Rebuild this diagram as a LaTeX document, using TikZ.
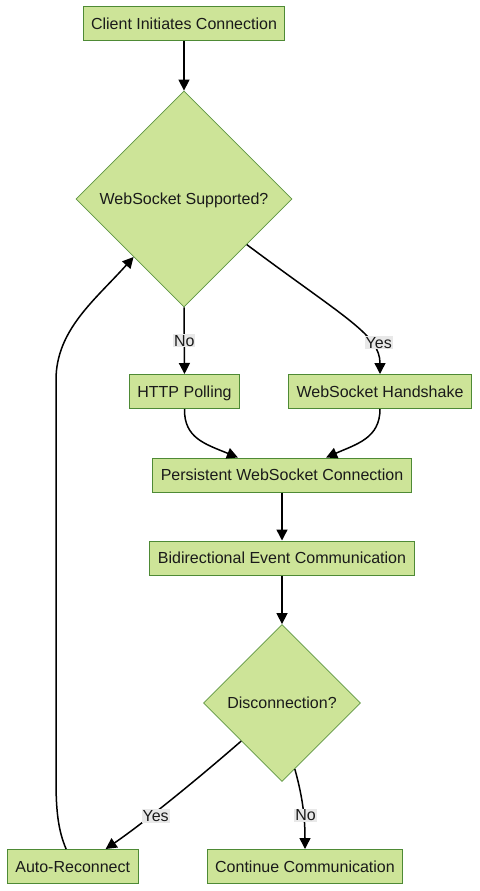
\documentclass[tikz,border=0pt]{standalone}
\usepackage{fontspec}
\setmainfont{Liberation Sans}
\usetikzlibrary{shapes.geometric,arrows.meta,calc}
\definecolor{boxfill}{HTML}{CDE498}
\definecolor{boxline}{HTML}{4E8A35}
\definecolor{diamline}{HTML}{5F9642}
\definecolor{lblbg}{HTML}{E8E8E8}
\definecolor{txt}{HTML}{1A1A1A}
\begin{document}
\begin{tikzpicture}[x=1pt,y=-1pt,
  every node/.style={font=\fontsize{16pt}{19pt}\selectfont, text=txt},
  stepbox/.style={draw=boxline, line width=1pt, fill=boxfill, inner xsep=8pt, minimum height=34pt, inner ysep=0pt, text height=11.5pt, text depth=0pt},
  decision/.style={diamond, draw=diamline, line width=0.8pt, fill=boxfill, inner sep=0pt, text height=11.5pt, text depth=0pt},
  conn/.style={line width=1.5pt, -{Triangle[length=11pt,width=11pt]}},
  lbl/.style={fill=lblbg, inner sep=1pt}]
\useasboundingbox (0,0) rectangle (479,891);

\node[stepbox] (start) at (184,24) {Client Initiates Connection};
\node[decision, minimum width=216pt, minimum height=216pt] (d1) at (184,199) {WebSocket Supported?};
\node[stepbox] (hp) at (184.5,391.5) {HTTP Polling};
\node[stepbox] (hs) at (380,391.5) {WebSocket Handshake};
\node[stepbox] (pc) at (282,475) {Persistent WebSocket Connection};
\node[stepbox] (bc) at (282,558) {Bidirectional Event Communication};
\node[decision, minimum width=157pt, minimum height=157pt] (d2) at (282,703) {Disconnection?};
\node[stepbox] (ar) at (72.7,866.5) {Auto-Reconnect};
\node[stepbox] (cc) at (305,866.5) {Continue Communication};

\coordinate (pcl) at ($(pc.north west)!0.33!(pc.north east)$);
\coordinate (pcr) at ($(pc.north west)!0.67!(pc.north east)$);
\coordinate (arin) at ($(ar.north west)!0.75!(ar.north east)$);
\coordinate (arout) at ($(ar.north west)!0.45!(ar.north east)$);

\draw[conn] (start) -- (d1.north);
\draw[conn] (d1.south) -- (hp.north) node[lbl, pos=0.5] {No};
\draw[conn] (d1.-36) .. controls (345,318) and (380,335) .. (hs.north) node[lbl, pos=0.7, xshift=9pt] {Yes};
\draw[conn] (hp.south) .. controls (184,438) and (205,444) .. (pcl);
\draw[conn] (hs.south) .. controls (380,438) and (357,444) .. (pcr);
\draw[conn] (pc) -- (bc);
\draw[conn] (bc) -- (d2.north);
\draw[conn] (d2.-137) .. controls (200,777) and (145,822) .. (arin) node[lbl, pos=0.62, yshift=-4pt] {Yes};
\draw[conn] (d2.-79) .. controls (302,795) and (305,815) .. (cc.north) node[lbl, pos=0.62, xshift=2pt] {No};
\draw[conn] (arout) .. controls (58,830) and (56,810) .. (56,780) -- (56,380) .. controls (56,330) and (95,300) .. (d1.-131);
\end{tikzpicture}
\end{document}
